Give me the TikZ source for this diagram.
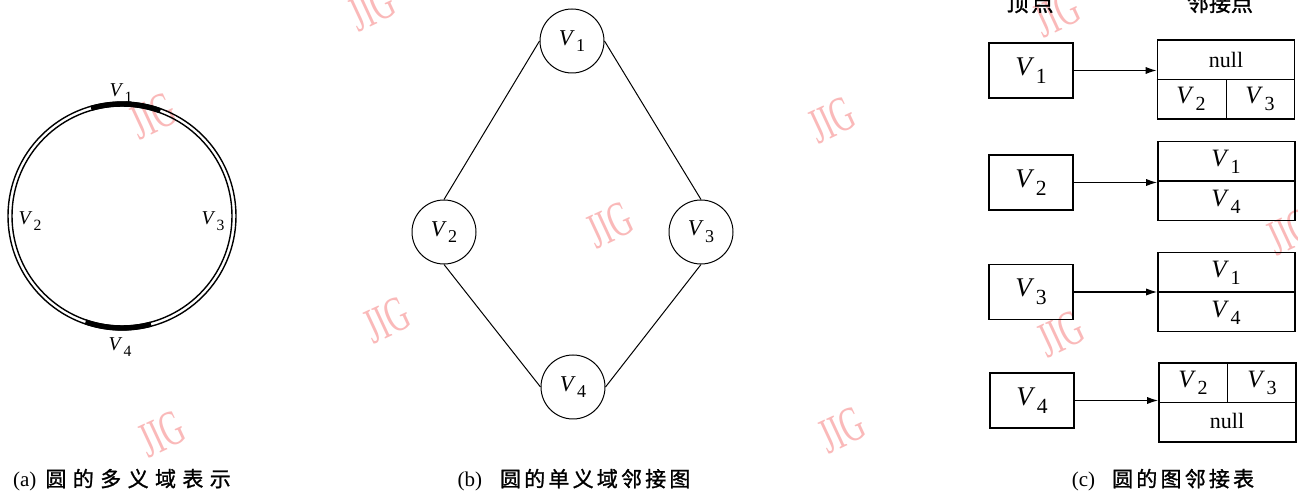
\documentclass[tikz,border=0pt]{standalone}
\usepackage{fontspec}
\setmainfont{Liberation Serif}
\newfontfamily\cjk{Noto Sans CJK SC}[FakeBold=1.2]
\usetikzlibrary{arrows.meta}
\definecolor{wm}{RGB}{250,185,185}
\newcommand\Vx[1]{\textit{V}\kern0.06em\raisebox{-0.3em}{\scalebox{0.8}{#1}}}
\newcommand\capgapA{\hspace{3.2pt}}
\newcommand\capgapB{\hspace{1.6pt}}
\newcommand\wmtext{\scalebox{0.62}[1]{JIG}}
\begin{document}
\begin{tikzpicture}[x=0.5pt,y=-0.5pt,
  wmark/.style={text=wm, font=\fontsize{25}{25}\selectfont, rotate=25, inner sep=0},
  vlab/.style={inner sep=0, font=\fontsize{9.8}{11}\selectfont},
  gnode/.style={draw, circle, minimum size=32pt, inner sep=0, line width=0.5pt, font=\fontsize{11.3}{13}\selectfont},
  gedge/.style={line width=0.5pt},
  vbox/.style={draw, line width=0.8pt, minimum width=42pt, minimum height=27.5pt, inner sep=0, font=\fontsize{13.5}{15}\selectfont},
  abox/.style={draw, line width=0.8pt, minimum width=68.5pt, minimum height=39.5pt, inner sep=0},
  cell/.style={inner sep=0, font=\fontsize{12.5}{14}\selectfont},
  nulltxt/.style={inner sep=0, font=\fontsize{11}{13}\selectfont},
  ptr/.style={line width=0.7pt, -{Latex[length=5.5pt,width=3.6pt]}},
  captxt/.style={inner sep=0, font=\fontsize{10.5}{12}\selectfont},
  divider/.style={line width=0.8pt},
  thin divider/.style={line width=0.4pt},
  ]
\clip (0,0) rectangle (1298,496);
\fill[white] (0,0) rectangle (1298,496);

% watermarks
\node[wmark] (w1) at (372,8) {\wmtext};
\node[wmark] (w2) at (153,116) {\wmtext};
\node[wmark] (w3) at (832,120) {\wmtext};
\node[wmark] (w4) at (610,225) {\wmtext};
\node[wmark] (w5) at (1057,14) {\wmtext};
\node[wmark] (w6) at (1290,232) {\wmtext};
\node[wmark] (w7) at (387,320) {\wmtext};
\node[wmark] (w8) at (1061,334) {\wmtext};
\node[wmark] (w9) at (162,434) {\wmtext};
\node[wmark] (w10) at (842,430) {\wmtext};

% (a) multi-domain circle
\coordinate (ca) at (122,216);
\draw[line width=0.7pt] (ca) circle[radius=57pt];
\draw[line width=0.7pt] (ca) circle[radius=55pt];
\draw[line width=2.6pt] ([shift={(106:56pt)}]ca) arc[start angle=106,end angle=70,radius=56pt];
\draw[line width=2.6pt] ([shift={(251:56pt)}]ca) arc[start angle=251,end angle=285,radius=56pt];
\node[vlab] (la1) at (121,93) {\Vx{1}};
\node[vlab] (la2) at (30,221) {\Vx{2}};
\node[vlab] (la3) at (213,221) {\Vx{3}};
\node[vlab] (la4) at (120,347) {\Vx{4}};

% (b) single-domain adjacency graph
\node[gnode] (b1) at (572,41) {\Vx{1}};
\node[gnode] (b2) at (444,232) {\Vx{2}};
\node[gnode] (b3) at (701,232) {\Vx{3}};
\node[gnode] (b4) at (573,387) {\Vx{4}};
\draw[gedge] (b1.west) -- (b2.north);
\draw[gedge] (b1.east) -- (b3.north);
\draw[gedge] (b2.south) -- (b4.west);
\draw[gedge] (b3.south) -- (b4.east);

% (c) adjacency table
\node[captxt, font=\fontsize{11}{12}\selectfont] (h1) at (1030,3) {\cjk 顶\hspace{1.5pt}点};
\node[captxt, font=\fontsize{11}{12}\selectfont] (h2) at (1220,3) {\cjk 邻接点};

\node[vbox] (v1) at (1031,70.5) {\Vx{1}};
\node[vbox] (v2) at (1031,182.5) {\Vx{2}};
\node[vbox] (v3) at (1031,292) {\Vx{3}};
\node[vbox] (v4) at (1032,400.5) {\Vx{4}};

\node[abox] (a1) at (1226,79.5) {};
\node[abox] (a2) at (1226.5,181) {};
\node[abox] (a3) at (1226.5,292) {};
\node[abox] (a4) at (1227.5,402.5) {};

\draw[divider] (a1.west) -- (a1.east);
\draw[thin divider] (a1.center) -- (a1.south);
\draw[divider] (a2.west) -- (a2.east);
\draw[divider] (a3.west) -- (a3.east);
\draw[divider] (a4.west) -- (a4.east);
\draw[thin divider] (a4.north) -- (a4.center);

\node[nulltxt] (c1a) at (1226,60) {null};
\node[cell] (c1b) at (1191,99) {\Vx{2}};
\node[cell] (c1c) at (1260,99) {\Vx{3}};
\node[cell] (c2a) at (1226,162) {\Vx{1}};
\node[cell] (c2b) at (1226,202) {\Vx{4}};
\node[cell] (c3a) at (1226,273) {\Vx{1}};
\node[cell] (c3b) at (1226,313) {\Vx{4}};
\node[cell] (c4a) at (1193,383) {\Vx{2}};
\node[cell] (c4b) at (1262,383) {\Vx{3}};
\node[nulltxt] (c4c) at (1227,421) {null};

\draw[ptr] (v1.east) -- (v1.east -| a1.west);
\draw[ptr] (v2.east) -- (v2.east -| a2.west);
\draw[ptr] (v3.east) -- (v3.east -| a3.west);
\draw[ptr] (v4.east) -- (v4.east -| a4.west);

% captions
\node[captxt] (capa) at (122,480) {(a)\hspace{4.5pt}\cjk\fontsize{10.5}{12}\selectfont 圆\capgapA 的\capgapA 多\capgapA 义\capgapA 域\capgapA 表\capgapA 示};
\node[captxt] (capb) at (574,480) {(b)\hspace{9pt}\cjk\fontsize{10.5}{12}\selectfont 圆\capgapB 的\capgapB 单\capgapB 义\capgapB 域\capgapB 邻\capgapB 接\capgapB 图};
\node[captxt] (capc) at (1163,480) {(c)\hspace{8.5pt}\cjk\fontsize{10.5}{12}\selectfont 圆\capgapB 的\capgapB 图\capgapB 邻\capgapB 接\capgapB 表};
\end{tikzpicture}
\end{document}
